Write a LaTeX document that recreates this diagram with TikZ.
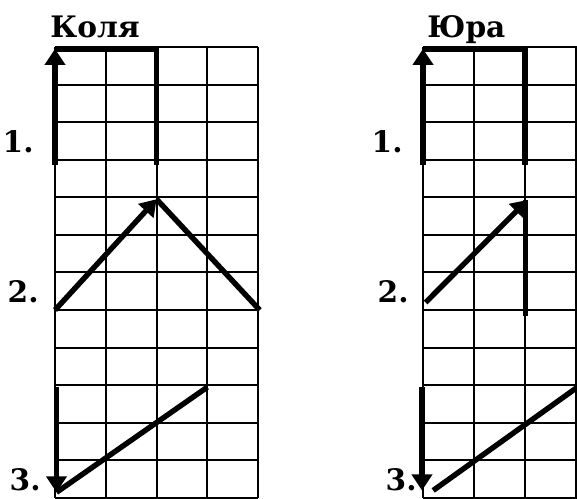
\documentclass[tikz,border=0pt]{standalone}
\usepackage{fontspec}
\setmainfont{DejaVu Serif}
\usetikzlibrary{arrows.meta}
\begin{document}
\begin{tikzpicture}[x=0.5pt,y=-0.5pt,
  gridline/.style={line width=1pt},
  fig/.style={line width=2.7pt},
  arr/.style={fig,-{Triangle[length=8pt,width=10pt]}},
  lbl/.style={font=\fontsize{14.8}{17}\selectfont\bfseries, inner sep=0pt}]
\useasboundingbox (0,0) rectangle (577,498);
% labels
\node[lbl, anchor=base west] (kolya) at (50,37) {Коля};
\node[lbl, anchor=base west] (yura) at (427,37) {Юра};
\node[lbl, anchor=base east] (l1) at (34,152) {1.};
\node[lbl, anchor=base east] (l2) at (39,302) {2.};
\node[lbl, anchor=base east] (l3) at (41,490) {3.};
\node[lbl, anchor=base east] (r1) at (403,152) {1.};
\node[lbl, anchor=base east] (r2) at (409,302) {2.};
\node[lbl, anchor=base east] (r3) at (417,490) {3.};
% left grid
\begin{scope}[shift={(55,47)}, x=25.4pt, y=-18.79pt]
  \foreach \i in {0,...,4} \draw[gridline] (\i,0) -- (\i,12);
  \foreach \j in {0,...,12} \draw[gridline] (0,\j) -- (4,\j);
  % 1
  \draw[arr] (0,3.15) -- (0,0.05);
  \draw[fig] (0,0.05) -- (2,0.05) -- (2,3.15);
  % 2
  \draw[arr] (0,7) -- (2,4.05);
  \draw[fig] (2,4.05) -- (4.03,7);
  % 3
  \draw[arr] (0.03,9.05) -- (0.03,11.85);
  \draw[fig] (0.03,11.85) -- (3,9.05);
\end{scope}
% right grid
\begin{scope}[shift={(423,47)}, x=25.5pt, y=-18.79pt]
  \foreach \i in {0,...,3} \draw[gridline] (\i,0) -- (\i,12);
  \foreach \j in {0,...,12} \draw[gridline] (0,\j) -- (3.03,\j);
  % 1
  \draw[arr] (0,3.15) -- (0,0.05);
  \draw[fig] (0,0.05) -- (2,0.05) -- (2,3.15);
  % 2
  \draw[arr] (0.05,6.8) -- (2.05,4.07);
  \draw[fig] (2.01,4.07) -- (2.01,7.15);
  % 3
  \draw[arr] (-0.02,9.05) -- (-0.02,11.8);
  \draw[fig] (0.2,11.8) -- (3.03,9.05);
\end{scope}
\end{tikzpicture}
\end{document}
